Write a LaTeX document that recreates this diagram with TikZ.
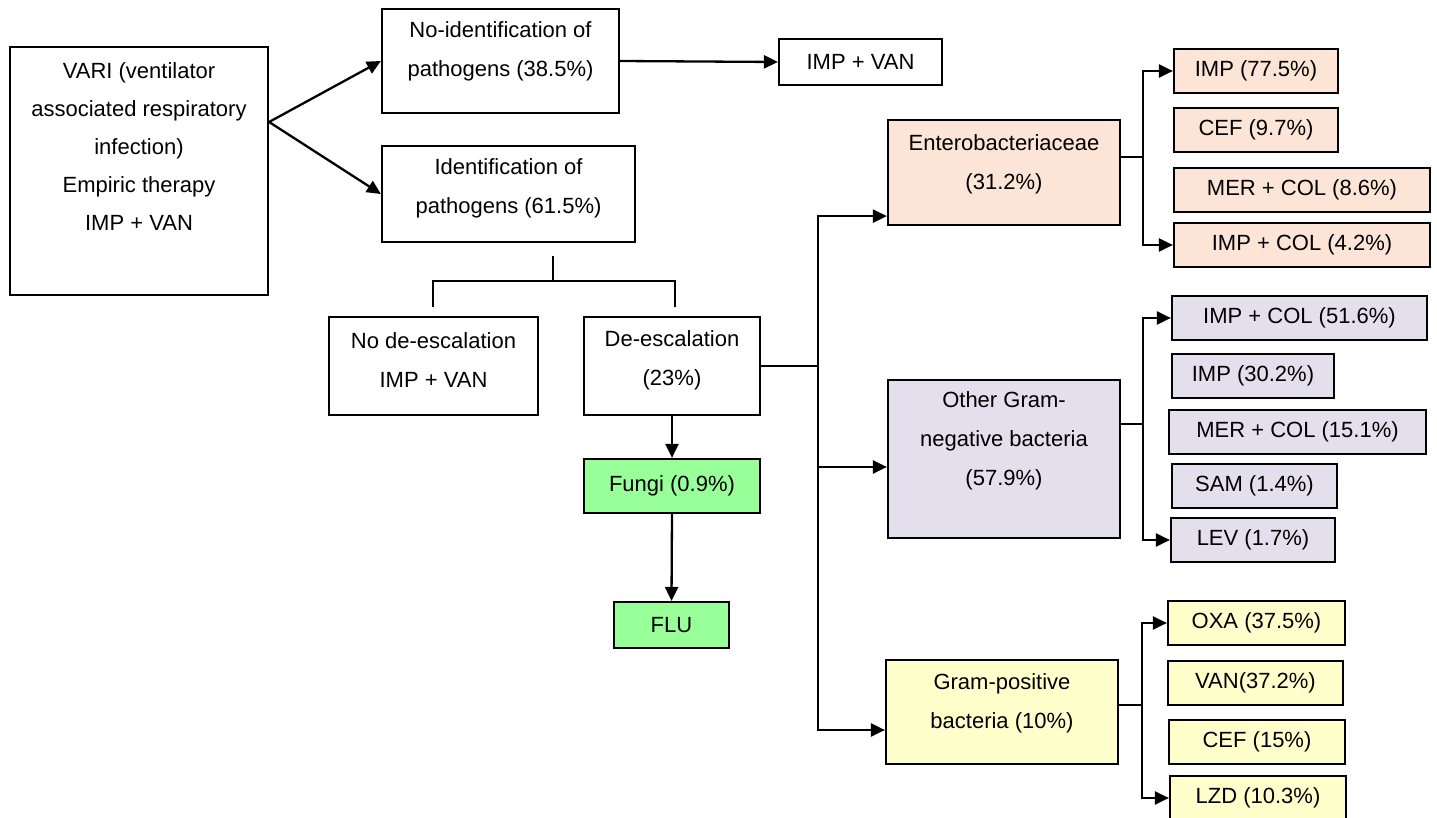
\documentclass[tikz,border=0pt]{standalone}
\usepackage{fontspec}
\setmainfont{Liberation Sans}
\usetikzlibrary{arrows.meta,calc}
\definecolor{peach}{RGB}{252,229,214}
\definecolor{lavender}{RGB}{228,223,236}
\definecolor{paleyellow}{RGB}{255,255,204}
\definecolor{palegreen}{RGB}{153,255,153}
\tikzset{
  box/.style={draw, line width=1.1pt, inner sep=0pt, align=center, font=\fontsize{11}{19.5}\selectfont},
  txt/.style={inner sep=0pt, align=center, font=\fontsize{11}{19.5}\selectfont},
  conn/.style={line width=1.15pt},
  arr/.style={line width=1.15pt, -{Triangle[length=7pt,width=6.5pt]}},
}
\begin{document}
\begin{tikzpicture}[x=0.5pt,y=-0.5pt]
\useasboundingbox (0,0) rectangle (1437,818);
% left part
\node[box, minimum width=129pt, minimum height=124pt] (vari) at (139,171) {};
\node[txt, font=\fontsize{11}{18.9}\selectfont] (variT) at (139,146.5) {VARI (ventilator\\associated respiratory\\infection)\\Empiric therapy\\IMP + VAN};
\node[box, minimum width=118.5pt, minimum height=52pt] (noid) at (500.5,61) {};
\node[txt] (noidT) at (500.5,51.5) {No-identification of\\pathogens (38.5\%)};
\node[box, minimum width=126.5pt, minimum height=48pt] (ident) at (508.5,194) {};
\node[txt] (identT) at (508.5,188.5) {Identification of\\pathogens (61.5\%)};
\node[box, minimum width=81.5pt, minimum height=23pt] (impvan) at (860.5,62) {IMP + VAN};
\node[box, minimum width=104.5pt, minimum height=49pt] (nodesc) at (433.5,366) {};
\node[txt] (nodescT) at (433.5,360) {No de-escalation\\IMP + VAN};
\node[box, minimum width=88pt, minimum height=49pt] (de) at (672,366) {};
\node[txt] (deT) at (672,360) {De-escalation\\(23\%)};
\node[box, fill=palegreen, minimum width=88pt, minimum height=27pt] (fungi) at (672,486) {Fungi (0.9\%)};
\node[box, fill=palegreen, minimum width=57.5pt, minimum height=23pt] (flu) at (671.5,625) {FLU};
% middle column
\node[box, fill=peach, minimum width=116pt, minimum height=52.5pt] (ent) at (1004,172.5) {};
\node[txt] (entT) at (1004,164.5) {Enterobacteriaceae\\(31.2\%)};
\node[box, fill=lavender, minimum width=116pt, minimum height=79pt] (ogn) at (1004,459) {};
\node[txt] (ognT) at (1004,441) {Other Gram-\\negative bacteria\\(57.9\%)};
\node[box, fill=paleyellow, minimum width=116pt, minimum height=52pt] (gp) at (1002,712) {};
\node[txt] (gpT) at (1002,703) {Gram-positive\\bacteria (10\%)};
% right column
\node[box, fill=peach, minimum width=82pt, minimum height=22pt] (e1) at (1256,71) {IMP (77.5\%)};
\node[box, fill=peach, minimum width=82pt, minimum height=22pt] (e2) at (1256,130) {CEF (9.7\%)};
\node[box, fill=peach, minimum width=128pt, minimum height=22pt] (e3) at (1302,190) {MER + COL (8.6\%)};
\node[box, fill=peach, minimum width=128pt, minimum height=22pt] (e4) at (1302,245) {IMP + COL (4.2\%)};
\node[box, fill=lavender, minimum width=127.5pt, minimum height=22pt] (g1) at (1299.5,318) {IMP + COL (51.6\%)};
\node[box, fill=lavender, minimum width=81pt, minimum height=22pt] (g2) at (1253,376) {IMP (30.2\%)};
\node[box, fill=lavender, minimum width=128.5pt, minimum height=22pt] (g3) at (1297.5,432) {MER + COL (15.1\%)};
\node[box, fill=lavender, minimum width=82.5pt, minimum height=22pt] (g4) at (1254.5,486) {SAM (1.4\%)};
\node[box, fill=lavender, minimum width=82pt, minimum height=22pt] (g5) at (1253,540) {LEV (1.7\%)};
\node[box, fill=paleyellow, minimum width=88.5pt, minimum height=22pt] (p1) at (1256.5,623) {OXA (37.5\%)};
\node[box, fill=paleyellow, minimum width=87.5pt, minimum height=22pt] (p2) at (1255.5,683) {VAN(37.2\%)};
\node[box, fill=paleyellow, minimum width=88pt, minimum height=22pt] (p3) at (1257,742) {CEF (15\%)};
\node[box, fill=paleyellow, minimum width=88pt, minimum height=22pt] (p4) at (1258,798) {LZD (10.3\%)};
% junction coordinates
\coordinate (b0) at (553,256);
\coordinate (b1) at (553,281);
\coordinate (bL) at (433,307);
\coordinate (bR) at (675,307);
\coordinate (mainJ) at (818,366);
\coordinate (entJ) at (1143,157);
\coordinate (ognJ) at (1143,424);
\coordinate (gpJ) at (1142,705);
% connectors
\draw[arr] ([yshift=24.5pt]vari.east) -- (noid.west);
\draw[arr] ([yshift=24.5pt]vari.east) -- (ident.west);
\draw[arr] (noid.east) -- (impvan.west);
\draw[conn] (b0) -- (b1);
\draw[conn] (bL) |- (b1) -| (bR);
\draw[arr] (de.south) -- (fungi.north);
\draw[arr] (fungi.south) -- (flu.north);
\draw[conn] (de.east) -- (mainJ);
\draw[arr] (mainJ) |- ([yshift=5pt]ent.south west);
\draw[arr] (mainJ) |- ([yshift=-4pt]ogn.west);
\draw[arr] (mainJ) |- ([yshift=-9pt]gp.west);
\draw[conn] (entJ -| ent.east) -- (entJ);
\draw[arr] (entJ) |- (e1.west);
\draw[arr] (entJ) |- (e4.west);
\draw[conn] (ognJ -| ogn.east) -- (ognJ);
\draw[arr] (ognJ) |- (g1.west);
\draw[arr] (ognJ) |- (g5.west);
\draw[conn] (gpJ -| gp.east) -- (gpJ);
\draw[arr] (gpJ) |- (p1.west);
\draw[arr] (gpJ) |- (p4.west);
\end{tikzpicture}
\end{document}
